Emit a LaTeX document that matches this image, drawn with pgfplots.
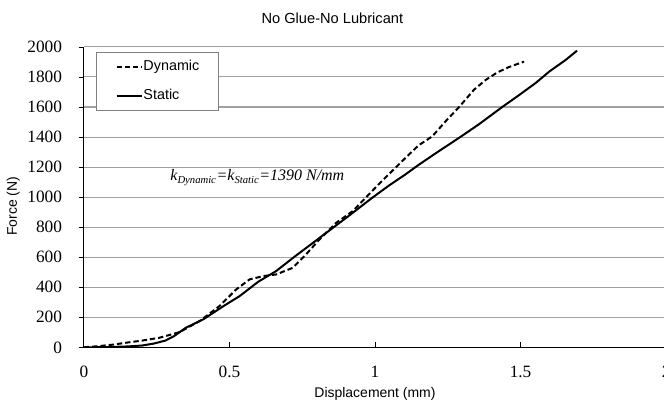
\documentclass[border=0pt]{standalone}
\usepackage{fontspec}
\setmainfont{Liberation Serif}
\newfontfamily\arial{Liberation Sans}
\usepackage{pgfplots}
\pgfplotsset{compat=1.18}
\definecolor{gridgray}{RGB}{160,160,160}
\definecolor{boxgray}{RGB}{128,128,128}

\begin{document}
\begin{tikzpicture}
\begin{axis}[
    name=ax,
    scale only axis,
    width=437.55pt, height=225.75pt,
    xmin=0, xmax=2, ymin=0, ymax=2000,
    xtick={0,0.5,1,1.5,2},
    ytick={0,200,...,2000},
    scaled ticks=false,
    /pgf/number format/1000 sep={},
    /pgf/number format/assume math mode=true,
    axis x line=bottom, axis y line=left,
    axis line style={-, black, line width=0.8pt},
    ymajorgrids,
    grid style={line width=0.8pt, gridgray},
    xtick align=inside, ytick align=outside,
    major tick length=4pt,
    tick style={black, line width=0.6pt},
    ticklabel style={font=\fontsize{13}{15}\selectfont},
    yticklabel style={anchor=east, inner sep=0pt, xshift=-12.2pt},
    xticklabel style={anchor=north, inner sep=0pt, yshift=-13.6pt},
    legend style={at={(0.0206,0.983)}, anchor=north west,
        draw=boxgray, line width=0.6pt, fill=white,
        font=\arial\fontsize{10.8}{12}\selectfont,
        inner xsep=14.5pt, inner ysep=5.5pt, row sep=11.5pt,
        nodes={inner sep=0pt, text height=8pt, text depth=2.5pt}},
    legend cell align=left,
    legend image code/.code={\draw[#1] (0pt,0pt) -- (19.5pt,0pt);},
]
% Dynamic
\addplot[black, line width=1.5pt, dash pattern=on 4pt off 2.25pt] coordinates {
    (0,0) (0.05,8) (0.10,18) (0.146,31) (0.20,45) (0.26,64) (0.33,102)
    (0.40,178) (0.466,275) (0.523,385) (0.569,452) (0.615,474) (0.66,485)
    (0.717,529) (0.763,618) (0.809,718) (0.866,828) (0.923,906) (0.97,1000)
    (1.02,1100) (1.07,1195) (1.112,1275) (1.15,1345) (1.197,1405) (1.245,1510)
    (1.289,1600) (1.34,1715) (1.38,1780) (1.42,1830) (1.46,1866) (1.512,1902)
};
% Static
\addplot[black, line width=1.5pt] coordinates {
    (0,0) (0.05,1) (0.10,3) (0.15,6) (0.20,12) (0.24,25) (0.28,45) (0.31,75)
    (0.35,130) (0.41,186) (0.48,275) (0.535,341) (0.60,438) (0.66,507)
    (0.72,598) (0.79,700) (0.855,795) (0.92,890) (0.99,995) (1.05,1080)
    (1.10,1145) (1.15,1215) (1.21,1294) (1.289,1395) (1.357,1485) (1.437,1600)
    (1.494,1678) (1.552,1760) (1.60,1838) (1.654,1912) (1.694,1975)
};
\legend{Dynamic, Static}
\node[font=\fontsize{12}{14}\selectfont\itshape] at (axis cs:0.596,1130)
    {k\textsubscript{Dynamic}=k\textsubscript{Static}=1390 N/mm};
\end{axis}
\node[font=\arial\fontsize{11}{13}\selectfont] at ([xshift=186.75pt,yshift=21.75pt]ax.north west) {No Glue-No Lubricant};
\node[font=\arial\fontsize{10.5}{12}\selectfont] at ([yshift=-35.25pt]ax.south) {Displacement (mm)};
\node[font=\arial\fontsize{10.5}{12}\selectfont, rotate=90] at ([xshift=-53pt,yshift=106pt]ax.south west) {Force (N)};
\pgfresetboundingbox
\path[use as bounding box] ([xshift=-63pt,yshift=-44.25pt]ax.south west) rectangle ([xshift=-1.6pt,yshift=35.25pt]ax.north east);
\end{tikzpicture}
\end{document}
